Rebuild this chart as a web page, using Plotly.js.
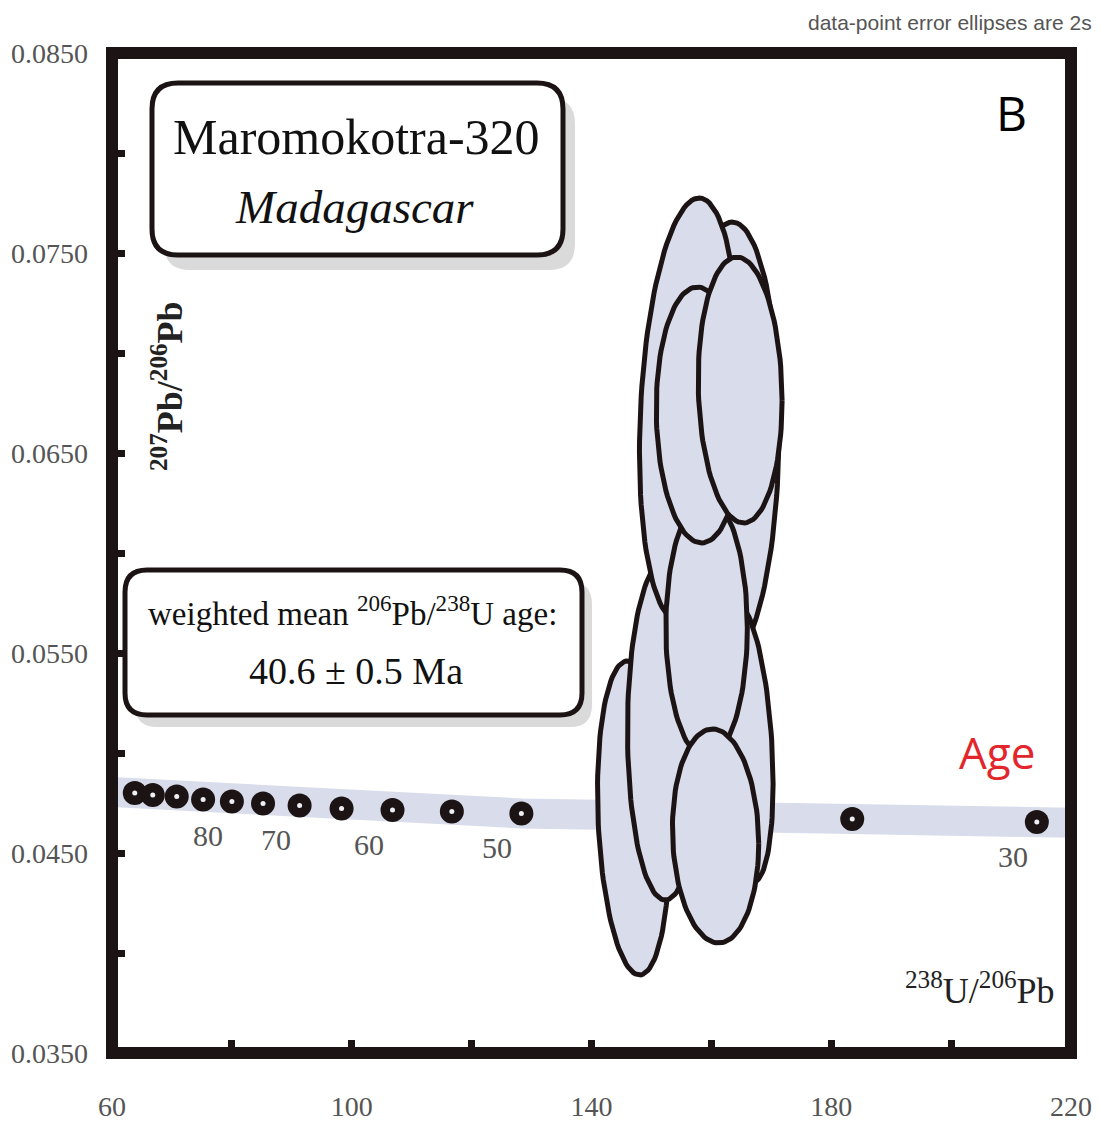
<!DOCTYPE html>
<html><head><meta charset="utf-8">
<script src="https://cdn.plot.ly/plotly-3.0.1.min.js"></script>
<style>html,body{margin:0;padding:0;background:#fff}#chart{width:1101px;height:1124px}</style>
</head><body><div id="chart"></div>
<script>
// ---- Concordia age markers (Ma) ----
const concAges = [100, 95, 90, 85, 80, 75, 70, 65, 60, 55, 50, 35, 30];
const concX = [63.8, 66.8, 70.8, 75.2, 80.0, 85.2, 91.3, 98.3, 106.8, 116.7, 128.3, 183.5, 214.3];
const concY = [0.04800, 0.04790, 0.04782, 0.04768, 0.04757, 0.04748, 0.04737, 0.04723, 0.04715, 0.04707, 0.04698, 0.04670, 0.04655];
// ---- Concordia uncertainty band centre line ----
const bandX = [60, 63.8, 80.0, 106.8, 128.3, 183.5, 214.3, 222];
const bandY = [0.04805, 0.04800, 0.04757, 0.04715, 0.04698, 0.04670, 0.04655, 0.04650];
// ---- Labelled ages ----
const ageLabels = [80, 70, 60, 50, 30];
// ---- Data-point error ellipses (2s), in drawing order ----
const ellX   = [147.0, 152.3, 163.0, 156.3, 165.5, 159.2, 158.0, 164.8, 160.7];
const ellY   = [0.04675, 0.05115, 0.0656, 0.06715, 0.05055, 0.05625, 0.0669, 0.06815, 0.04585];
const ellSx  = [6.0, 6.3, 8.3, 8.3, 4.8, 6.8, 7.2, 7.0, 7.2];
const ellSy  = [0.00785, 0.0085, 0.01095, 0.0106, 0.0070, 0.0065, 0.0064, 0.00665, 0.00535];
const ellRho = [-0.17, 0.0, 0.06, 0.2, -0.3, 0.0, -0.05, -0.08, -0.07];
// ---- Axis ticks ----
const xTickVals = [60, 100, 140, 180, 220];
const yTickVals = [0.035, 0.045, 0.055, 0.065, 0.075, 0.085];

const INK = '#1c1414', FILL = '#d9dcea', GREY = '#555555';
const L = 112, R = 1071, T = 53, B = 1053;
const fx = px => (px - L) / (R - L);
const fy = py => (B - py) / (B - T);

function rrect(x0, y0, x1, y1, r) {
  const P = (x, y) => fx(x).toFixed(5) + ',' + fy(y).toFixed(5);
  return 'M' + P(x0 + r, y0) + ' L' + P(x1 - r, y0) + ' Q' + P(x1, y0) + ' ' + P(x1, y0 + r) +
    ' L' + P(x1, y1 - r) + ' Q' + P(x1, y1) + ' ' + P(x1 - r, y1) +
    ' L' + P(x0 + r, y1) + ' Q' + P(x0, y1) + ' ' + P(x0, y1 - r) +
    ' L' + P(x0, y0 + r) + ' Q' + P(x0, y0) + ' ' + P(x0 + r, y0) + ' Z';
}

const traces = [];
// concordia band
traces.push({x: bandX, y: bandY, mode: 'lines', line: {color: FILL, width: 30}, hoverinfo: 'skip'});
// age markers (donuts)
traces.push({x: concX, y: concY, mode: 'markers', marker: {color: INK, size: 24, line: {width: 0}}, text: concAges, hoverinfo: 'text'});
traces.push({x: concX, y: concY, mode: 'markers', marker: {color: '#eeeef4', size: 5, line: {width: 0}}, hoverinfo: 'skip'});
// ellipses
for (let i = 0; i < ellX.length; i++) {
  const xs = [], ys = [];
  const s = Math.sqrt(1 - ellRho[i] * ellRho[i]);
  for (let k = 0; k <= 120; k++) {
    const t = 2 * Math.PI * k / 120;
    xs.push(ellX[i] + ellSx[i] * Math.cos(t));
    ys.push(ellY[i] + ellSy[i] * (ellRho[i] * Math.cos(t) + s * Math.sin(t)));
  }
  traces.push({x: xs, y: ys, mode: 'lines', fill: 'toself', fillcolor: FILL,
    line: {color: INK, width: 5}, hoverinfo: 'skip'});
}

const annotations = [];
ageLabels.forEach(a => {
  const i = concAges.indexOf(a);
  annotations.push({x: concX[i], y: concY[i], xref: 'x', yref: 'y', text: String(a), showarrow: false,
    xanchor: 'center', yanchor: 'middle',
    xshift: -24, yshift: -34, font: {family: 'Liberation Serif', size: 30, color: GREY}});
});
const serif = 'Liberation Serif';
function note(px, py, text, font, extra) {
  return Object.assign({xref: 'paper', yref: 'paper', x: fx(px), y: fy(py), text: text, showarrow: false,
    xanchor: 'center', yanchor: 'middle', font: font}, extra || {});
}
annotations.push(
  note(356, 137, 'Maromokotra-320', {family: serif, size: 50, color: '#111'}),
  note(354, 207, '<i>Madagascar</i>', {family: serif, size: 47, color: '#111'}),
  note(352, 611, 'weighted mean <sup>206</sup>Pb/<sup>238</sup>U age:', {family: serif, size: 33, color: '#111'}),
  note(356, 671, '40.6 ± 0.5 Ma', {family: serif, size: 38, color: '#111'}),
  note(1094, 22, 'data-point error ellipses are 2s', {family: 'Liberation Sans Narrow, Liberation Sans', size: 21, color: GREY}, {xanchor: 'right'}),
  note(1011, 112, 'B', {family: 'Open Sans', size: 48, color: '#000'}),
  note(997, 752, 'Age', {family: 'Open Sans', size: 44, color: '#e3262b'}),
  note(168, 386, '<b><sup>207</sup>Pb/<sup>206</sup>Pb</b>', {family: serif, size: 36, color: '#222'}, {textangle: -90}),
  note(980, 988, '<sup>238</sup>U/<sup>206</sup>Pb', {family: serif, size: 36, color: '#222'})
);

const shapes = [
  {type: 'path', xref: 'paper', yref: 'paper', path: rrect(164, 98, 575, 270, 26), fillcolor: '#dadada', line: {width: 0}},
  {type: 'path', xref: 'paper', yref: 'paper', path: rrect(152, 83, 563, 255, 26), fillcolor: '#ffffff', line: {color: INK, width: 5}},
  {type: 'path', xref: 'paper', yref: 'paper', path: rrect(135, 582, 592, 727, 22), fillcolor: '#dadada', line: {width: 0}},
  {type: 'path', xref: 'paper', yref: 'paper', path: rrect(125, 570, 582, 715, 22), fillcolor: '#ffffff', line: {color: INK, width: 5}},
  {type: 'rect', xref: 'paper', yref: 'paper', x0: 0, x1: 1, y0: 0, y1: 1, line: {color: INK, width: 12}, fillcolor: 'rgba(0,0,0,0)'}
];

const tickStyle = {ticks: 'inside', ticklen: 13, tickwidth: 7, tickcolor: INK};
const layout = {
  width: 1101, height: 1124,
  margin: {l: L, r: 1101 - R, t: T, b: 1124 - B},
  paper_bgcolor: '#ffffff', plot_bgcolor: '#ffffff',
  showlegend: false,
  xaxis: Object.assign({range: [60, 220], tickmode: 'array', tickvals: xTickVals,
    minor: Object.assign({tick0: 60, dtick: 20}, tickStyle),
    showgrid: false, zeroline: false, showline: false, ticklabelstandoff: 34,
    tickfont: {family: serif, size: 28, color: GREY}}, tickStyle),
  yaxis: Object.assign({range: [0.035, 0.085], tickmode: 'array', tickvals: yTickVals, tickformat: '.4f',
    minor: Object.assign({tick0: 0.035, dtick: 0.005}, tickStyle),
    showgrid: false, zeroline: false, showline: false, ticklabelstandoff: 23,
    tickfont: {family: serif, size: 28, color: GREY}}, tickStyle),
  shapes: shapes,
  annotations: annotations
};
Plotly.newPlot('chart', traces, layout, {displayModeBar: false, staticPlot: true});
</script>
</body></html>
